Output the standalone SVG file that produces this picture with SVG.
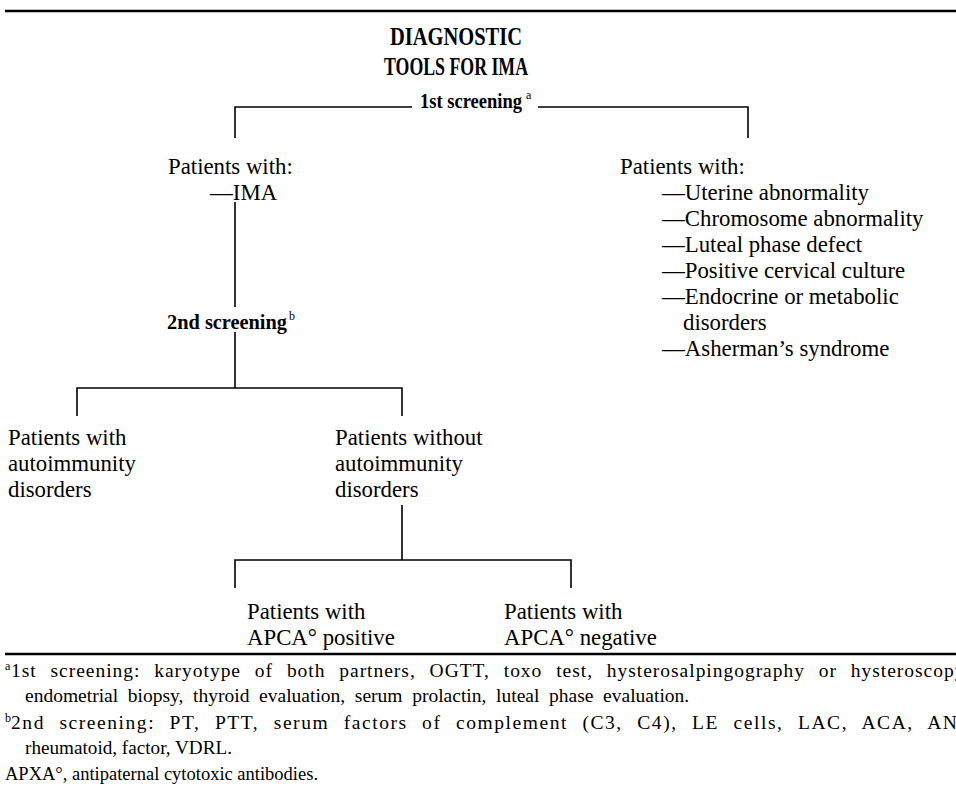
<svg xmlns="http://www.w3.org/2000/svg" width="956" height="792" viewBox="0 0 956 792">
<style>
text{font-family:"Liberation Serif","DejaVu Serif",serif;fill:#000}
.t{font-size:25px;font-weight:bold}
.n{font-size:22.8px}
.b{font-size:21px;font-weight:bold}
.f{font-size:19.5px}
.j{word-spacing:8px}
.sup{font-size:12px}
.ln{stroke:#000;stroke-width:1.6;fill:none}
.rule{stroke:#000;stroke-width:2.5}
</style>
<rect width="956" height="792" fill="#fff"/>
<line class="rule" x1="5" y1="11" x2="956" y2="11"/>
<g id="title">
<text class="t" x="390" y="45" textLength="132" lengthAdjust="spacingAndGlyphs">DIAGNOSTIC</text>
<text class="t" x="384" y="75" textLength="144" lengthAdjust="spacingAndGlyphs">TOOLS FOR IMA</text>
</g>
<g id="connectors">
<path class="ln" d="M235,138 V107 H412 M538,107 H748 V138"/>
<line class="ln" x1="235" y1="202" x2="235" y2="307"/>
<line class="ln" x1="235" y1="332" x2="235" y2="388"/>
<path class="ln" d="M77,416 V388 H402 V416"/>
<line class="ln" x1="402" y1="505" x2="402" y2="560"/>
<path class="ln" d="M235,588 V560 H571 V588"/>
</g>
<g id="screen1">
<text class="b" x="420" y="108" textLength="102" lengthAdjust="spacingAndGlyphs">1st screening</text>
<text class="sup" x="526" y="99">a</text>
</g>
<g id="ima">
<text class="n" x="168" y="174">Patients with:</text>
<text class="n" x="210" y="200">—IMA</text>
</g>
<g id="other">
<text class="n" x="620" y="174">Patients with:</text>
<text class="n" x="662" y="200">—Uterine abnormality</text>
<text class="n" x="662" y="226">—Chromosome abnormality</text>
<text class="n" x="662" y="252">—Luteal phase defect</text>
<text class="n" x="662" y="278">—Positive cervical culture</text>
<text class="n" x="662" y="304">—Endocrine or metabolic</text>
<text class="n" x="683" y="330">disorders</text>
<text class="n" x="662" y="356">—Asherman’s syndrome</text>
</g>
<g id="screen2">
<text class="b" x="167" y="329" textLength="120" lengthAdjust="spacingAndGlyphs">2nd screening</text>
<text class="sup" x="289" y="320">b</text>
</g>
<g id="auto">
<text class="n" x="8" y="445">Patients with</text>
<text class="n" x="8" y="471">autoimmunity</text>
<text class="n" x="8" y="497">disorders</text>
</g>
<g id="noauto">
<text class="n" x="335" y="445">Patients without</text>
<text class="n" x="335" y="471">autoimmunity</text>
<text class="n" x="335" y="497">disorders</text>
</g>
<g id="pos">
<text class="n" x="247" y="619">Patients with</text>
<text class="n" x="247" y="645">APCA° positive</text>
</g>
<g id="neg">
<text class="n" x="504" y="619">Patients with</text>
<text class="n" x="504" y="645">APCA° negative</text>
</g>
<line class="rule" x1="5" y1="654" x2="956" y2="654"/>
<g id="footnotes">
<text class="sup" x="5" y="670">a</text>
<text class="f j" x="11" y="677" textLength="958" lengthAdjust="spacing">1st screening: karyotype of both partners, OGTT, toxo test, hysterosalpingography or hysteroscopy,</text>
<text class="f" x="25" y="702" style="word-spacing:4.8px">endometrial biopsy, thyroid evaluation, serum prolactin, luteal phase evaluation.</text>
<text class="sup" x="5" y="722">b</text>
<text class="f j" x="11" y="729" textLength="968" lengthAdjust="spacing">2nd screening: PT, PTT, serum factors of complement (C3, C4), LE cells, LAC, ACA, ANA,</text>
<text class="f" x="25" y="754" textLength="207" lengthAdjust="spacingAndGlyphs">rheumatoid, factor, VDRL.</text>
<text class="f" x="5" y="780" textLength="313" lengthAdjust="spacingAndGlyphs">APXA°, antipaternal cytotoxic antibodies.</text>
</g>
</svg>
